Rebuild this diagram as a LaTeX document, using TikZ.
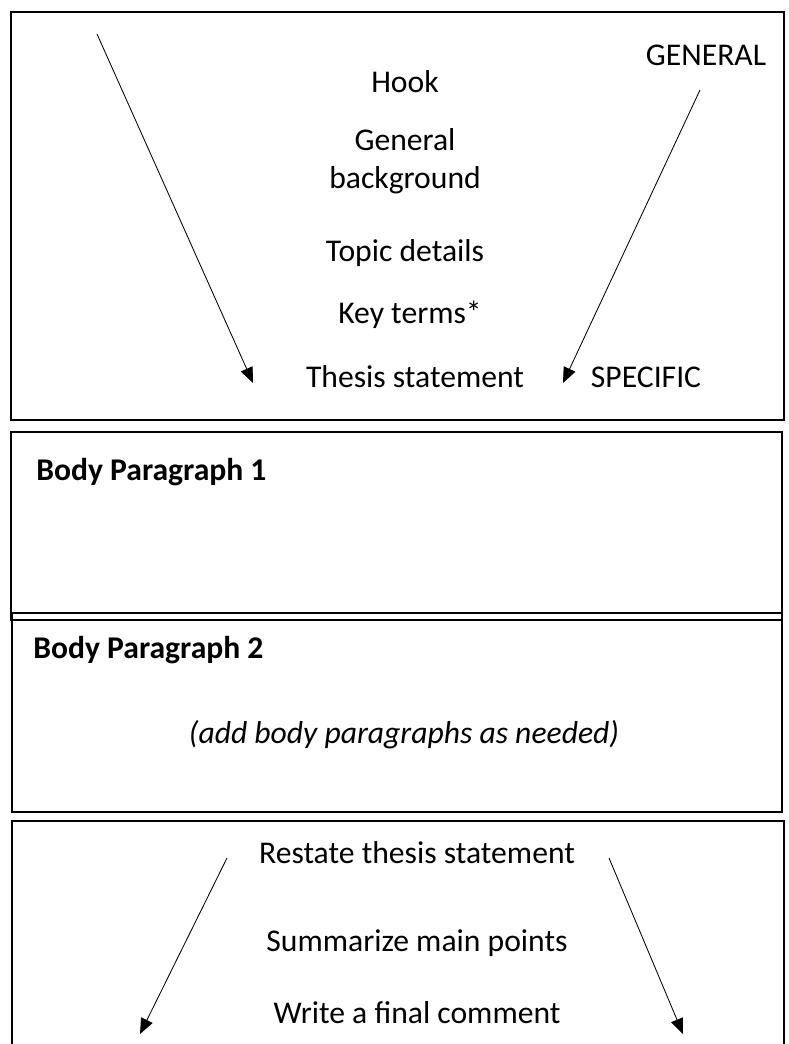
\documentclass[tikz,border=0pt]{standalone}
\usepackage{fontspec}
\setmainfont{Carlito}
\usetikzlibrary{arrows.meta}

\tikzset{
  box/.style={line width=1.4pt},
  funnel/.style={line width=0.6pt, -{Triangle[length=11pt, width=9pt]}},
  every node/.style={font=\fontsize{22.5}{27}\selectfont, inner sep=0pt}
}

\begin{document}
\begin{tikzpicture}[x=0.025cm, y=-0.025cm]

  \useasboundingbox (0,0) rectangle (788,1044);

  % ***************** INTRODUCTION *****************
  \draw[box] (11,12) rectangle (784,420);

  \node (hook) at (405,82) {Hook};
  \node (background) at (405,161) [align=center] {General\\background};
  \node (details) at (405,253) {Topic details};
  \node (keyterms) at (410,315) {Key terms*};
  \node (thesis) at (415,377) {Thesis statement};

  \node (general) at (706,55) {GENERAL};
  \node (specific) at (646,377) {SPECIFIC};

  \coordinate (introL1) at (97,34);
  \coordinate (introL2) at (253,383);
  \coordinate (introR1) at (700,90);
  \coordinate (introR2) at (563,383);
  \draw[funnel] (introL1) -- (introL2);
  \draw[funnel] (introR1) -- (introR2);

  % ***************** BODY PARAGRAPHS *****************
  \draw[box] (11,432) rectangle (782,620);
  \node (body1) at (36,472) [anchor=west] {\bfseries Body Paragraph 1};

  \draw[box] (12,613) rectangle (782,812);
  \node (body2) at (33,650) [anchor=west] {\bfseries Body Paragraph 2};
  \node (addmore) at (404,735) {\itshape (add body paragraphs as needed)};

  % ***************** CONCLUSION *****************
  \draw[box] (12,1060) -- (12,821) -- (784,821) -- (784,1060);

  \node (restate) at (417,853) {Restate thesis statement};
  \node (summarize) at (417,943) {Summarize main points};
  \node (comment) at (417,1013) {Write a final comment};

  \coordinate (concL1) at (227,858);
  \coordinate (concL2) at (140,1034);
  \coordinate (concR1) at (609,858);
  \coordinate (concR2) at (683,1034);
  \draw[funnel] (concL1) -- (concL2);
  \draw[funnel] (concR1) -- (concR2);

\end{tikzpicture}
\end{document}
